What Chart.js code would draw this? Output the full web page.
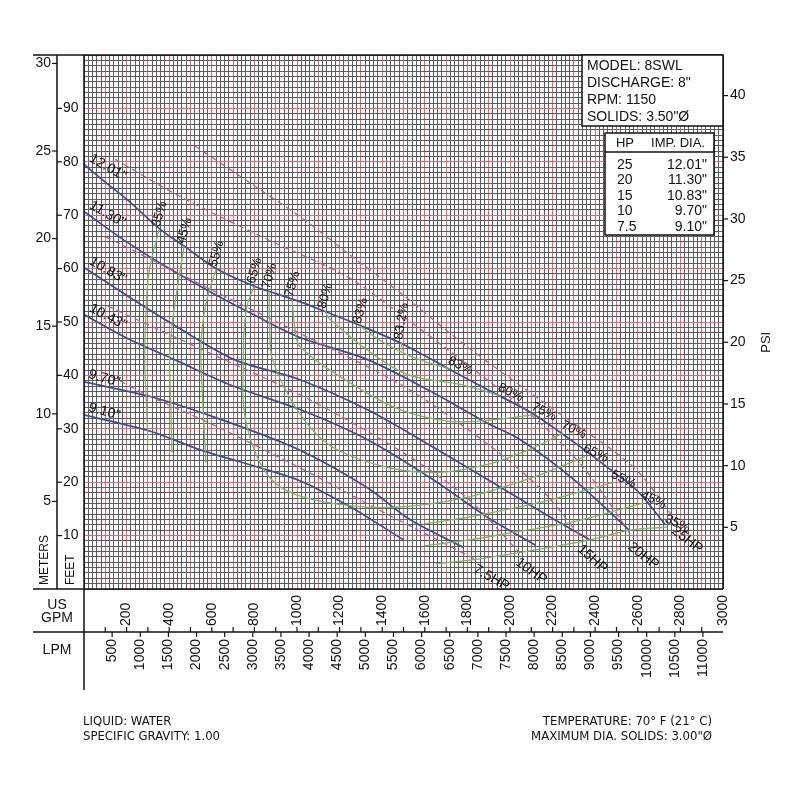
<!DOCTYPE html>
<html><head><meta charset="utf-8">
<script src="https://cdn.jsdelivr.net/npm/chart.js@4.4.0/dist/chart.umd.min.js"></script>
<style>html,body{margin:0;padding:0;background:#fff}</style>
</head><body>
<canvas id="c" width="800" height="800"></canvas>
<script>
// ---------- DATA (x = US GPM, y = head in feet) ----------
const gpmTicks = [200,400,600,800,1000,1200,1400,1600,1800,2000,2200,2400,2600,2800,3000];
const lpmTicks = [500,1000,1500,2000,2500,3000,3500,4000,4500,5000,5500,6000,6500,7000,7500,8000,8500,9000,9500,10000,10500,11000];
const feetTicks = [10,20,30,40,50,60,70,80,90];
const meterTicks = [5,10,15,20,25,30];
const psiTicks = [5,10,15,20,25,30,35,40];

const diaLabels = ['12.01"','11.30"','10.83"','10.43"','9.70"','9.10"'];
const head1201 = [[0,79.5],[100,76.2],[200,73],[360,67.3],[470,64.2],[620,60],[800,56.7],[1000,54],[1130,52],[1300,49.3],[1500,45.8],[1700,41.5],[1900,37.2],[2100,33],[2300,27.5],[2450,23],[2600,18.3],[2730,12]];
const head1130 = [[0,70.7],[200,65],[400,60],[600,55.5],[800,51.3],[1014,47.1],[1329,43],[1638,36.8],[1892,31.1],[2047,28],[2300,20.5],[2560,11]];
const head1083 = [[0,60.2],[200,55],[400,50],[704,43],[1014,39.2],[1329,33.6],[1638,26.6],[1953,19.1],[2200,13.2],[2376,9.2]];
const head1043 = [[0,51.4],[200,47],[423,43],[700,38],[1014,33.6],[1329,28],[1638,20.5],[1892,13.5],[2120,8.2]];
const head970  = [[0,38.8],[315,36],[625,32],[1014,26],[1329,19],[1530,13],[1780,7.8]];
const head910  = [[0,32.6],[315,29.5],[550,26],[860,22.3],[1030,20],[1249,15.4],[1329,13.5],[1500,9.2]];

const hpLabels = ['25HP','20HP','15HP','10HP','7.5HP'];
const hp25 = [[520,83],[800,75.5],[1033,69.2],[1250,62.5],[1484,55.5],[1798,45.4],[2188,34.1],[2577,22.9],[2783,12.6]];
const hp20 = [[145,80.5],[451,73.5],[859,65.5],[1235,58.5],[1484,51.5],[1800,42],[2108,32.3],[2350,22.5],[2577,9.6]];
const hp15 = [[100,66],[600,56],[1033,47.5],[1500,38],[1900,27],[2150,18.5],[2343,9.2]];
const hp10 = [[110,53],[600,44],[1033,36],[1500,25.5],[1800,17],[2047,6.7]];
const hp75 = [[127,39.8],[315,36],[625,30.4],[1033,22.3],[1400,14.5],[1845,5.4]];

// efficiency contours (top point on the 12.01" curve first / last)
const effLeftLabels = ['35%','45%','55%','65%','70%','75%','80%','83%'];
const eff35L = [[352,67.3],[305,59.3],[291,51.8],[285,43],[293,35],[300,27.5]];
const eff45L = [[470,64.2],[437,56.1],[413,49.2],[402,43],[408,34],[413,25.5]];
const eff55L = [[620,59.9],[577,54.2],[554,48.6],[549,43],[560,33],[573,23.6]];
const eff65  = [[798,56.7],[765,52.9],[751,48],[748,43],[751,33.6],[800,26],[880,20.5],[1000,17.6],[1250,15.6],[1500,15.4],[1812,17.3],[2100,20.8],[2352,24.8]];
const eff70  = [[869,55.7],[872,49],[885,43],[1000,33.6],[1150,27],[1400,23],[1650,21.8],[1900,23.4],[2100,26.3],[2250,29.2]];
const eff75  = [[977,54.2],[990,49],[1014,45.4],[1249,38.6],[1484,33.6],[1718,31.4],[1900,31.6],[2110,32.6]];
const eff80  = [[1131,52],[1155,50.5],[1329,44.8],[1516,40.2],[1765,38.3],[1953,36.2]];
const eff83  = [[1296,49.2],[1400,46.3],[1520,43.8],[1630,42.2],[1718,41.2]];
const eff832 = [[1490,46.2],[1494,44.6]];
const effRightLabels = ['83%','80%','75%','70%','65%','55%','45%','35%'];
const eff55R = [[2483,19.9],[2200,16.8],[2000,15],[1812,13.5],[1600,12.2]];
const eff45R = [[2624,16.1],[2300,12.6],[2000,10.5],[1812,9.2],[1600,8.1]];
const eff35R = [[2737,11.6],[2560,11],[2376,9.2],[2100,7.2],[1812,5.4],[1650,4.7]];

// ---------- styles ----------
const BLUE = '#3d4a9c', PINK = '#c4568e', GREEN = '#74b85a';
const GRID = '#5c5c5c', GRID_RED = '#e8646f';
const FONT = '"Liberation Sans", Arial, sans-serif';

const pts = a => a.map(p => ({x: p[0], y: p[1]}));
const heads = [head1201, head1130, head1083, head1043, head970, head910];
const hps = [hp25, hp20, hp15, hp10, hp75];
const effs = [eff35L, eff45L, eff55L, eff65, eff70, eff75, eff80, eff83, eff832, eff55R, eff45R, eff35R];

const datasets = [];
effs.forEach(d => datasets.push({data: pts(d), borderColor: GREEN, borderWidth: 1.3, tension: 0.35, pointRadius: 0, showLine: true, fill: false}));
hps.forEach(d => datasets.push({data: pts(d), borderColor: PINK, borderWidth: 1.3, borderDash: [6, 4], tension: 0.3, pointRadius: 0, showLine: true, fill: false}));
heads.forEach(d => datasets.push({data: pts(d), borderColor: BLUE, borderWidth: 1.7, tension: 0.3, pointRadius: 0, showLine: true, fill: false}));

function txt(ctx, s, x, y, opt) {
  ctx.save();
  ctx.translate(x, y);
  if (opt.rot) ctx.rotate(opt.rot * Math.PI / 180);
  ctx.font = opt.font || ('14px ' + FONT);
  ctx.fillStyle = opt.color || '#111';
  ctx.textAlign = opt.align || 'left';
  ctx.textBaseline = opt.base || 'middle';
  ctx.fillText(s, 0, 0);
  ctx.restore();
}
function line(ctx, x1, y1, x2, y2, w) {
  ctx.beginPath(); ctx.lineWidth = w || 1.5; ctx.strokeStyle = '#111';
  ctx.moveTo(x1, y1); ctx.lineTo(x2, y2); ctx.stroke();
}

const decor = {
  id: 'decor',
  afterDatasetsDraw(chart) {
    const ctx = chart.ctx, xs = chart.scales.x, ys = chart.scales.y, a = chart.chartArea;
    const X = v => xs.getPixelForValue(v), Y = v => ys.getPixelForValue(v);
    // --- curve labels (clipped to plot) ---
    ctx.save();
    ctx.beginPath(); ctx.rect(a.left, a.top, a.right - a.left, a.bottom - a.top); ctx.clip();
    const diaRot = [30, 30, 30, 28, 16, 16];
    heads.forEach((h, i) => txt(ctx, diaLabels[i], X(h[0][0]) + 3, Y(h[0][1]) - 1, {rot: diaRot[i], base: 'bottom', font: '14px ' + FONT}));
    const hpRot = [38, 38, 42, 36, 30];
    hps.forEach((h, i) => { const p = h[h.length - 1]; txt(ctx, hpLabels[i], X(p[0]) + 1, Y(p[1]) + 2, {rot: hpRot[i], base: 'top', font: '14px ' + FONT}); });
    const leftTops = [eff35L, eff45L, eff55L, eff65, eff70, eff75, eff80, eff83];
    leftTops.forEach((e, i) => txt(ctx, effLeftLabels[i], X(e[0][0]) - 3, Y(e[0][1]) - 3, {rot: -74, base: 'middle', font: '13px ' + FONT}));
    txt(ctx, '83.2%', X(eff832[0][0]) - 3, Y(eff832[0][1]) - 3, {rot: -80, base: 'middle', font: '13px ' + FONT});
    const last = a2 => a2[a2.length - 1];
    const rightTops = [last(eff83), last(eff80), last(eff75), last(eff70), last(eff65), eff55R[0], eff45R[0], eff35R[0]];
    rightTops.forEach((p, i) => txt(ctx, effRightLabels[i], X(p[0]) - 4, Y(p[1]) - 3, {rot: 26, base: 'bottom', font: '13px ' + FONT}));
    ctx.restore();

    // --- frame ---
    line(ctx, a.left, a.top, a.right, a.top);
    line(ctx, a.right, a.top, a.right, a.bottom);
    line(ctx, a.left, a.top, a.left, 690);
    line(ctx, 33, a.top, a.left, a.top);
    line(ctx, 33, a.bottom, a.right, a.bottom);
    line(ctx, 33, 632, a.right, 632);
    line(ctx, 57, a.top, 57, a.bottom);

    // --- left axes ---
    meterTicks.forEach(m => { const y = Y(m * 3.28084); line(ctx, 52, y, 57, y, 1.2); txt(ctx, String(m), 51, y, {align: 'right'}); });
    feetTicks.forEach(f => { const y = Y(f); line(ctx, 57, y, 62, y, 1.2); txt(ctx, String(f), 63, y, {align: 'left'}); });
    txt(ctx, 'METERS', 45, 585, {rot: -90, align: 'left', font: '12px ' + FONT});
    txt(ctx, 'FEET', 71, 585, {rot: -90, align: 'left', font: '12px ' + FONT});

    // --- right axis ---
    psiTicks.forEach(p => { const y = Y(p * 2.31); line(ctx, a.right, y, a.right + 5, y, 1.2); txt(ctx, String(p), a.right + 7, y, {align: 'left'}); });
    txt(ctx, 'PSI', 766, Y(20 * 2.31), {rot: -90, align: 'center', font: '13px ' + FONT});

    // --- bottom axes ---
    for (let g = 100; g < 3000; g += 100) { const x = X(g); line(ctx, x, 632, x, 627, 1.2); }
    gpmTicks.forEach(g => txt(ctx, String(g), X(g), 626, {rot: -90, align: 'left'}));
    lpmTicks.forEach(l => { const x = X(l / 3.78541); line(ctx, x, 632, x, 637, 1.2); txt(ctx, String(l), x, 639, {rot: -90, align: 'right'}); });
    txt(ctx, 'US', 57, 605, {align: 'center', font: '14px ' + FONT});
    txt(ctx, 'GPM', 57, 618, {align: 'center', font: '14px ' + FONT});
    txt(ctx, 'LPM', 57, 650, {align: 'center', font: '14px ' + FONT});

    // --- info boxes ---
    ctx.fillStyle = '#fff'; ctx.fillRect(582, a.top, a.right - 582, 126 - a.top);
    ctx.lineWidth = 1.5; ctx.strokeStyle = '#111'; ctx.strokeRect(582, a.top, a.right - 582, 126 - a.top);
    ['MODEL: 8SWL', 'DISCHARGE: 8"', 'RPM: 1150', 'SOLIDS: 3.50"\u00D8'].forEach((s, i) => txt(ctx, s, 587, 66 + i * 17, {font: '14px ' + FONT}));
    ctx.fillStyle = '#fff'; ctx.fillRect(605, 133, 109, 102);
    ctx.strokeRect(605, 133, 109, 102);
    line(ctx, 605, 152, 714, 152, 1.3);
    txt(ctx, 'HP', 625, 143, {align: 'center', font: '13px ' + FONT});
    txt(ctx, 'IMP. DIA.', 678, 143, {align: 'center', font: '13px ' + FONT});
    const tHP = ['25', '20', '15', '10', '7.5'];
    const tDia = ['12.01"', '11.30"', '10.83"', '9.70"', '9.10"'];
    tHP.forEach((s, i) => { txt(ctx, s, 617, 165 + i * 15.5, {font: '14px ' + FONT}); txt(ctx, tDia[i], 707, 165 + i * 15.5, {align: 'right', font: '14px ' + FONT}); });

    // --- footer ---
    const ff = '13px "Liberation Sans Narrow", "DejaVu Sans Condensed", sans-serif';
    txt(ctx, 'LIQUID: WATER', 83, 722, {font: ff});
    txt(ctx, 'SPECIFIC GRAVITY: 1.00', 83, 737, {font: ff});
    txt(ctx, 'TEMPERATURE: 70\u00B0 F (21\u00B0 C)', 712, 722, {align: 'right', font: ff});
    txt(ctx, 'MAXIMUM DIA. SOLIDS: 3.00"\u00D8', 712, 737, {align: 'right', font: ff});
  }
};

new Chart(document.getElementById('c'), {
  type: 'scatter',
  data: {datasets},
  options: {
    responsive: false, animation: false, events: [],
    layout: {padding: {left: 84, right: 77, top: 55, bottom: 211}},
    plugins: {legend: {display: false}, tooltip: {enabled: false}},
    scales: {
      x: {type: 'linear', min: 0, max: 3000, display: true,
          ticks: {display: false, stepSize: 20, maxTicksLimit: 1000, autoSkip: false},
          border: {display: false},
          grid: {drawTicks: false, lineWidth: 1, color: c => (c.tick && c.tick.value % 100 === 0 && c.tick.value > 0 && c.tick.value < 3000) ? GRID_RED : GRID}},
      y: {type: 'linear', min: 0, max: 100, display: true,
          ticks: {display: false, stepSize: 1, maxTicksLimit: 1000, autoSkip: false},
          border: {display: false},
          grid: {drawTicks: false, lineWidth: 1, color: c => (c.tick && c.tick.value % 10 === 0 && c.tick.value > 0 && c.tick.value < 100) ? GRID_RED : GRID}}
    }
  },
  plugins: [decor]
});
</script>
</body></html>
